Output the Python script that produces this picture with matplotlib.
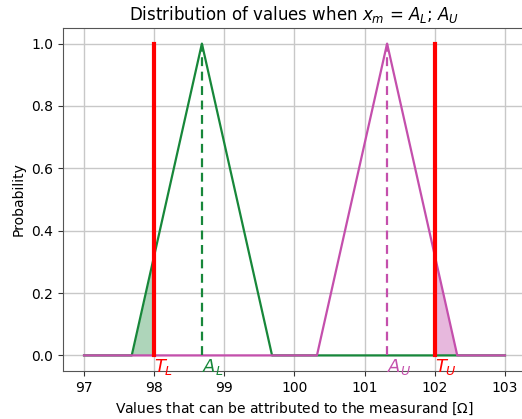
import numpy as np
import matplotlib.pyplot as plt

# triangular distributions (x positions, probability)
x_low = [97.0, 97.68, 98.68, 99.68, 103.0]
p_low = [0.0, 0.0, 1.0, 0.0, 0.0]
x_up = [97.0, 100.32, 101.32, 102.32, 103.0]
p_up = [0.0, 0.0, 1.0, 0.0, 0.0]

T_L, T_U = 98.0, 102.0
A_L, A_U = 98.68, 101.32

green = "#17873a"
magenta = "#c44fac"

fig = plt.figure(figsize=(5.22, 4.19), dpi=100)
ax = fig.add_axes([63 / 522, 48 / 419, 463 / 522, 343 / 419])

ax.plot(x_low, p_low, color=green, lw=1.6)
ax.plot(x_up, p_up, color=magenta, lw=1.6)

# shaded tails outside the tolerance limits
xs = np.array([97.68, T_L])
ax.fill_between(xs, 0, np.interp(xs, x_low, p_low), color=green, alpha=0.35, lw=0)
xs = np.array([T_U, 102.32])
ax.fill_between(xs, 0, np.interp(xs, x_up, p_up), color=magenta, alpha=0.4, lw=0)

ax.plot([A_L, A_L], [0, 1], color=green, ls=(0, (4, 2.5)), lw=1.6)
ax.plot([A_U, A_U], [0, 1], color=magenta, ls=(0, (4, 2.5)), lw=1.6)
ax.plot([T_L, T_L], [0, 1], color="red", lw=3)
ax.plot([T_U, T_U], [0, 1], color="red", lw=3)

ax.text(T_L, -0.005, r"$T_L$", color="red", fontsize=13, va="top", ha="left")
ax.text(T_U, -0.005, r"$T_U$", color="red", fontsize=13, va="top", ha="left")
ax.text(A_L, -0.005, r"$A_L$", color=green, fontsize=13, va="top", ha="left")
ax.text(A_U, -0.005, r"$A_U$", color=magenta, fontsize=13, va="top", ha="left")

ax.set_xlim(96.7, 103.3)
ax.set_ylim(-0.05, 1.05)
ax.set_xticks([97, 98, 99, 100, 101, 102, 103])
ax.set_yticks([0.0, 0.2, 0.4, 0.6, 0.8, 1.0])
ax.grid(color="#c8c8c8", lw=1)
ax.set_axisbelow(True)
for s in ax.spines.values():
    s.set_color("#555555")
ax.tick_params(colors="#333333", labelcolor="black")

ax.set_title(r"Distribution of values when $x_m$ = $A_L$; $A_U$", fontsize=12)
ax.set_xlabel(r"Values that can be attributed to the measurand [$\Omega$]")
ax.set_ylabel("Probability")

fig.savefig("out.png", dpi=100)
